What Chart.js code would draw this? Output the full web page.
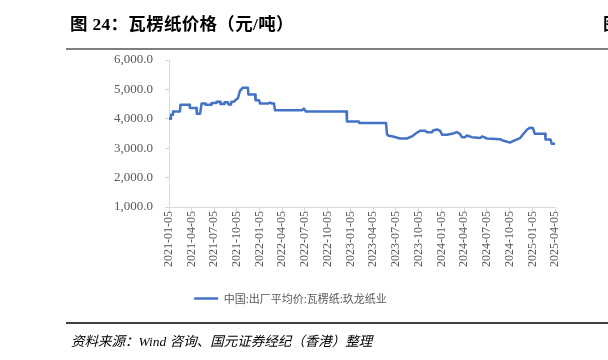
<!DOCTYPE html>
<html>
<head>
<meta charset="utf-8">
<script src="https://cdn.jsdelivr.net/npm/chart.js@4.4.1/dist/chart.umd.min.js"></script>
<style>
  html, body { margin: 0; padding: 0; width: 608px; height: 360px; overflow: hidden; background: #fff; }
  #wrap { position: relative; width: 608px; height: 360px; overflow: hidden; }
  #c { position: absolute; left: 0; top: 0; }
  .title { position: absolute; left: 70px; top: 10px; font: bold 17.5px "Liberation Serif", "Noto Sans CJK SC"; color: #000; white-space: nowrap; letter-spacing: 0.3px; }
  .title2 { position: absolute; left: 603px; top: 10px; font: bold 17.5px "Noto Sans CJK SC"; color: #000; white-space: nowrap; }
  .rule1 { position: absolute; left: 66px; top: 48px; width: 542px; height: 2px; background: #7f7f7f; }
  .rule2 { position: absolute; left: 66px; top: 322px; width: 542px; height: 1.5px; background: #404040; }
  .source { position: absolute; left: 71px; top: 330px; font: italic 13.5px "Liberation Serif", "Noto Sans CJK SC"; color: #000; white-space: nowrap; }
</style>
</head>
<body>
<div id="wrap">
  <canvas id="c" width="608" height="360"></canvas>
  <div class="title">图 24：瓦楞纸价格（元/吨）</div>
  <div class="title2">图</div>
  <div class="rule1"></div>
  <div class="rule2"></div>
  <div class="source">资料来源：Wind 咨询、国元证券经纪（香港）整理</div>
</div>
<script>
const seriesName = '中国:出厂平均价:瓦楞纸:玖龙纸业';
const tickLabels = ['2021-01-05','2021-04-05','2021-07-05','2021-10-05','2022-01-05','2022-04-05','2022-07-05','2022-10-05','2023-01-05','2023-04-05','2023-07-05','2023-10-05','2024-01-05','2024-04-05','2024-07-05','2024-10-05','2025-01-05','2025-04-05'];
const dates = ['2021-01-05','2021-01-11','2021-01-13','2021-01-19','2021-01-21','2021-02-18','2021-02-20','2021-03-28','2021-03-30','2021-04-25','2021-04-27','2021-05-10','2021-05-16','2021-05-30','2021-06-01','2021-06-23','2021-06-25','2021-07-13','2021-07-15','2021-07-29','2021-07-31','2021-08-14','2021-08-16','2021-08-30','2021-09-01','2021-09-11','2021-09-13','2021-09-23','2021-09-27','2021-10-09','2021-10-17','2021-10-29','2021-11-18','2021-11-20','2021-12-17','2021-12-19','2022-01-02','2022-01-06','2022-02-07','2022-02-15','2022-02-23','2022-03-03','2022-03-07','2022-06-23','2022-07-01','2022-07-09','2022-12-19','2022-12-21','2023-02-07','2023-02-09','2023-05-27','2023-05-31','2023-06-08','2023-06-24','2023-07-22','2023-08-19','2023-09-08','2023-09-29','2023-10-11','2023-10-31','2023-11-08','2023-11-28','2023-12-02','2023-12-18','2023-12-30','2024-01-07','2024-01-27','2024-02-20','2024-03-07','2024-03-19','2024-03-27','2024-04-08','2024-04-16','2024-05-06','2024-06-08','2024-06-16','2024-07-06','2024-08-27','2024-09-08','2024-10-06','2024-10-18','2024-11-15','2024-11-27','2024-12-13','2024-12-25','2025-01-06','2025-01-14','2025-02-24','2025-02-26','2025-03-18','2025-03-23','2025-04-05'];
const prices = [4000,4000,4140,4140,4250,4250,4480,4480,4370,4370,4175,4175,4520,4520,4480,4480,4540,4540,4580,4580,4500,4500,4560,4560,4490,4490,4580,4580,4620,4700,4950,5060,5060,4825,4825,4630,4630,4520,4520,4550,4520,4520,4290,4290,4345,4250,4250,3910,3910,3853,3853,3466,3420,3400,3330,3330,3400,3534,3592,3590,3545,3545,3600,3637,3600,3455,3455,3500,3545,3490,3375,3375,3430,3375,3350,3400,3330,3305,3260,3190,3240,3340,3465,3627,3695,3690,3490,3490,3295,3295,3150,3150];
const yMin = 1000, yMax = 6000, yStep = 1000;

const base = Date.UTC(2021, 0, 5);
function dayIndex(s) {
  const p = s.split('-').map(Number);
  return Math.round((Date.UTC(p[0], p[1] - 1, p[2]) - base) / 86400000);
}
const labelByDay = {};
tickLabels.forEach(l => { labelByDay[dayIndex(l)] = l; });
const points = dates.map((d, i) => ({ x: dayIndex(d), y: prices[i] }));
const lineColor = '#4472C4';
const axisColor = '#d9d9d9';
const textColor = '#595959';

new Chart(document.getElementById('c'), {
  type: 'line',
  data: {
    datasets: [{
      label: seriesName,
      data: points,
      borderColor: lineColor,
      backgroundColor: lineColor,
      borderWidth: 2.5,
      borderJoinStyle: 'round',
      borderCapStyle: 'round',
      pointRadius: 0,
      tension: 0,
      fill: false
    }]
  },
  options: {
    responsive: false,
    animation: false,
    events: [],
    layout: { padding: { left: 26, right: 53, top: 60, bottom: 46 } },
    plugins: {
      tooltip: { enabled: false },
      legend: {
        position: 'bottom',
        labels: {
          boxWidth: 24,
          boxHeight: 2.5,
          padding: 10,
          color: textColor,
          font: { family: '"Noto Sans CJK SC"', size: 11 },
          generateLabels: (chart) => [{
            text: seriesName, fillStyle: lineColor, strokeStyle: lineColor,
            lineWidth: 0, hidden: false, datasetIndex: 0, fontColor: textColor
          }]
        }
      }
    },
    scales: {
      x: {
        type: 'linear',
        min: 0,
        max: dayIndex(tickLabels[tickLabels.length - 1]),
        afterBuildTicks: (s) => { s.ticks = tickLabels.map(l => ({ value: dayIndex(l) })); },
        afterFit: (s) => { s.height = 76; },
        grid: { display: true, drawOnChartArea: false, drawTicks: true, tickLength: 4, color: axisColor },
        border: { display: true, color: axisColor, width: 1 },
        ticks: {
          autoSkip: false,
          maxRotation: 90,
          minRotation: 90,
          padding: 0,
          color: textColor,
          font: { family: '"Liberation Serif"', size: 12 },
          callback: (v) => labelByDay[v] || ''
        }
      },
      y: {
        min: yMin,
        max: yMax,
        afterFit: (s) => { s.width = 143; },
        grid: { display: true, drawOnChartArea: false, drawTicks: true, tickLength: 4, color: axisColor },
        border: { display: true, color: axisColor, width: 1 },
        ticks: {
          stepSize: yStep,
          padding: 12,
          color: textColor,
          font: { family: '"Liberation Serif"', size: 13 },
          callback: (v) => v.toLocaleString('en-US', { minimumFractionDigits: 1, maximumFractionDigits: 1 })
        }
      }
    }
  }
});
</script>
</body>
</html>
